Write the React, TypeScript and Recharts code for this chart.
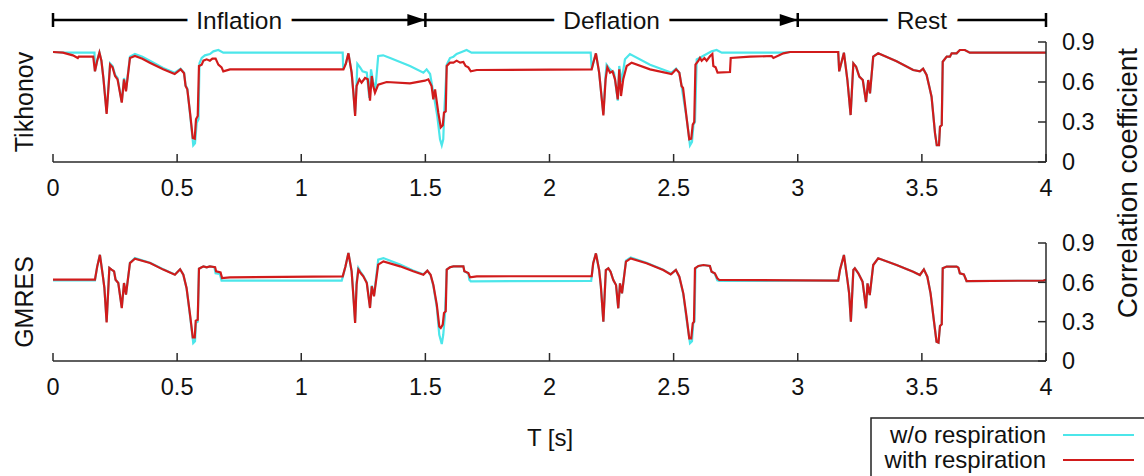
import React from "react";
import { Line, LineChart, XAxis, YAxis } from "recharts";

type Pt = [number, number];

const xTicks = [0, 0.5, 1, 1.5, 2, 2.5, 3, 3.5, 4];
const yTicks = [0, 0.3, 0.6, 0.9];
const seriesNames = ["w/o respiration", "with respiration"];
const panelNames = ["Tikhonov", "GMRES"];
const phases = [
  { label: "Inflation", from: 0, to: 1.5, head: "arrow" },
  { label: "Deflation", from: 1.5, to: 3, head: "arrow" },
  { label: "Rest", from: 3, to: 4, head: "bar" },
];

// Tikhonov, with respiration (red)
const tikhonovWith: Pt[] = [
  [0, 0.825], [0.04, 0.82], [0.08, 0.8], [0.1, 0.78], [0.104, 0.79], [0.162, 0.79],
  [0.169, 0.68], [0.178, 0.76], [0.187, 0.82], [0.195, 0.76], [0.203, 0.63], [0.216, 0.36],
  [0.23, 0.73], [0.24, 0.71], [0.25, 0.645], [0.26, 0.62], [0.277, 0.445], [0.286, 0.62],
  [0.294, 0.53], [0.31, 0.78], [0.33, 0.795], [0.36, 0.775], [0.39, 0.745], [0.444, 0.695],
  [0.49, 0.66], [0.514, 0.695], [0.528, 0.665], [0.534, 0.57], [0.541, 0.545], [0.552, 0.37],
  [0.563, 0.18], [0.571, 0.175], [0.576, 0.32], [0.583, 0.345], [0.588, 0.72], [0.599, 0.73],
  [0.606, 0.76], [0.619, 0.77], [0.632, 0.76], [0.642, 0.775], [0.655, 0.775], [0.666, 0.73],
  [0.679, 0.71], [0.686, 0.68], [0.713, 0.695], [1.17, 0.695],
  [1.18, 0.74], [1.19, 0.815], [1.203, 0.67], [1.21, 0.52], [1.217, 0.345], [1.223, 0.57],
  [1.234, 0.62], [1.243, 0.595], [1.257, 0.63], [1.268, 0.62], [1.277, 0.46], [1.284, 0.645],
  [1.29, 0.57], [1.297, 0.52], [1.31, 0.58], [1.344, 0.6], [1.438, 0.59], [1.498, 0.61],
  [1.512, 0.62], [1.525, 0.57], [1.532, 0.47], [1.539, 0.545], [1.552, 0.37], [1.562, 0.26],
  [1.57, 0.275], [1.575, 0.37], [1.582, 0.38], [1.586, 0.72], [1.599, 0.745], [1.613, 0.745],
  [1.626, 0.76], [1.64, 0.745], [1.653, 0.75], [1.662, 0.72], [1.673, 0.71], [1.683, 0.68],
  [1.707, 0.69], [2.17, 0.695],
  [2.176, 0.74], [2.187, 0.815], [2.2, 0.67], [2.208, 0.52], [2.217, 0.35], [2.226, 0.62],
  [2.233, 0.71], [2.244, 0.67], [2.254, 0.68], [2.264, 0.62], [2.275, 0.47], [2.281, 0.695],
  [2.288, 0.495], [2.297, 0.62], [2.311, 0.72], [2.331, 0.745], [2.405, 0.695], [2.492, 0.66],
  [2.51, 0.695], [2.523, 0.67], [2.532, 0.57], [2.538, 0.555], [2.553, 0.32], [2.563, 0.17],
  [2.571, 0.175], [2.577, 0.28], [2.583, 0.3], [2.588, 0.73], [2.6, 0.76], [2.606, 0.78],
  [2.613, 0.76], [2.624, 0.78], [2.633, 0.76], [2.647, 0.795], [2.656, 0.81], [2.66, 0.72],
  [2.669, 0.71], [2.677, 0.67], [2.727, 0.675], [2.73, 0.78], [2.808, 0.79], [2.895, 0.795],
  [2.902, 0.78], [2.942, 0.815], [2.969, 0.825], [3.163, 0.825],
  [3.167, 0.68], [3.186, 0.82], [3.2, 0.615], [3.213, 0.352], [3.224, 0.74], [3.235, 0.715],
  [3.248, 0.64], [3.262, 0.615], [3.275, 0.45], [3.284, 0.615], [3.291, 0.515], [3.304, 0.79],
  [3.324, 0.815], [3.398, 0.755], [3.465, 0.69], [3.492, 0.68], [3.505, 0.7], [3.519, 0.653],
  [3.53, 0.565], [3.539, 0.49], [3.553, 0.215], [3.56, 0.127], [3.569, 0.127], [3.573, 0.265],
  [3.58, 0.277], [3.584, 0.752], [3.6, 0.79], [3.613, 0.79], [3.62, 0.815], [3.64, 0.815],
  [3.653, 0.84], [3.673, 0.84], [3.693, 0.82], [4, 0.82],
];

// Tikhonov, w/o respiration (cyan) up to where it meets the red curve
const tikhonovWoOwn: Pt[] = [
  [0, 0.825], [0.05, 0.82], [0.167, 0.82], [0.169, 0.68], [0.178, 0.76], [0.187, 0.82],
  [0.195, 0.76], [0.203, 0.63], [0.216, 0.37], [0.23, 0.74], [0.24, 0.72], [0.25, 0.655],
  [0.26, 0.63], [0.277, 0.45], [0.286, 0.63], [0.294, 0.54], [0.31, 0.79], [0.33, 0.81],
  [0.36, 0.79], [0.39, 0.76], [0.444, 0.705], [0.49, 0.67], [0.514, 0.7], [0.528, 0.67],
  [0.534, 0.575], [0.541, 0.55], [0.552, 0.36], [0.565, 0.125], [0.572, 0.14], [0.579, 0.295],
  [0.586, 0.32], [0.59, 0.74], [0.599, 0.78], [0.612, 0.8], [0.632, 0.81], [0.646, 0.83],
  [0.666, 0.84], [0.686, 0.82], [1.167, 0.82],
  [1.169, 0.7], [1.18, 0.74], [1.19, 0.815], [1.203, 0.67], [1.21, 0.52], [1.217, 0.36],
  [1.223, 0.6], [1.226, 0.737], [1.237, 0.71], [1.247, 0.68], [1.264, 0.67], [1.274, 0.48],
  [1.281, 0.695], [1.29, 0.6], [1.298, 0.53], [1.31, 0.795], [1.33, 0.8], [1.358, 0.78],
  [1.438, 0.72], [1.492, 0.67], [1.505, 0.695], [1.519, 0.66], [1.532, 0.52], [1.548, 0.345],
  [1.559, 0.17], [1.566, 0.125], [1.572, 0.17], [1.576, 0.37], [1.586, 0.73], [1.599, 0.78],
  [1.613, 0.79], [1.626, 0.81], [1.646, 0.825], [1.666, 0.84], [1.686, 0.82], [2.166, 0.82],
  [2.17, 0.7], [2.187, 0.815], [2.2, 0.67], [2.208, 0.52], [2.217, 0.36], [2.226, 0.65],
  [2.23, 0.73], [2.244, 0.695], [2.26, 0.67], [2.275, 0.46], [2.281, 0.72], [2.29, 0.6],
  [2.304, 0.77], [2.324, 0.81], [2.405, 0.73], [2.492, 0.67], [2.51, 0.7], [2.523, 0.67],
  [2.532, 0.57], [2.553, 0.32], [2.566, 0.125], [2.574, 0.15], [2.58, 0.28], [2.586, 0.3],
  [2.593, 0.77], [2.613, 0.79], [2.633, 0.81], [2.653, 0.83], [2.673, 0.84], [2.694, 0.82],
  [2.94, 0.82],
];

// GMRES, with respiration (red)
const gmresWith: Pt[] = [
  [0, 0.62], [0.169, 0.62], [0.178, 0.72], [0.189, 0.81], [0.2, 0.66], [0.207, 0.557],
  [0.216, 0.295], [0.227, 0.71], [0.236, 0.697], [0.246, 0.684], [0.252, 0.62], [0.263, 0.595],
  [0.277, 0.404], [0.286, 0.595], [0.294, 0.506], [0.31, 0.747], [0.33, 0.78], [0.391, 0.747],
  [0.444, 0.697], [0.491, 0.658], [0.512, 0.7], [0.525, 0.658], [0.538, 0.557], [0.552, 0.353],
  [0.563, 0.18], [0.571, 0.18], [0.575, 0.308], [0.583, 0.315], [0.588, 0.704], [0.599, 0.715],
  [0.606, 0.722], [0.619, 0.715], [0.632, 0.722], [0.653, 0.715], [0.657, 0.684], [0.675, 0.676],
  [0.681, 0.633], [0.713, 0.638], [1.167, 0.646],
  [1.178, 0.72], [1.19, 0.824], [1.203, 0.684], [1.21, 0.493], [1.217, 0.29], [1.223, 0.582],
  [1.23, 0.697], [1.239, 0.671], [1.25, 0.646], [1.264, 0.595], [1.277, 0.404], [1.284, 0.57],
  [1.293, 0.493], [1.31, 0.735], [1.331, 0.76], [1.398, 0.722], [1.451, 0.684], [1.492, 0.658],
  [1.508, 0.689], [1.521, 0.658], [1.532, 0.582], [1.546, 0.43], [1.556, 0.264], [1.562, 0.252],
  [1.57, 0.277], [1.575, 0.366], [1.582, 0.379], [1.586, 0.697], [1.599, 0.715], [1.613, 0.722],
  [1.653, 0.722], [1.657, 0.684], [1.673, 0.671], [1.68, 0.638], [1.707, 0.646], [2.17, 0.648],
  [2.176, 0.745], [2.187, 0.821], [2.2, 0.694], [2.207, 0.567], [2.217, 0.3], [2.227, 0.694],
  [2.237, 0.707], [2.246, 0.681], [2.257, 0.618], [2.268, 0.58], [2.277, 0.402], [2.284, 0.592],
  [2.292, 0.516], [2.308, 0.758], [2.327, 0.783], [2.391, 0.745], [2.458, 0.694], [2.488, 0.661],
  [2.509, 0.694], [2.523, 0.643], [2.539, 0.516], [2.552, 0.338], [2.563, 0.173], [2.571, 0.173],
  [2.577, 0.287], [2.582, 0.3], [2.586, 0.707], [2.6, 0.725], [2.62, 0.732], [2.646, 0.725],
  [2.653, 0.681], [2.666, 0.669], [2.676, 0.631], [2.684, 0.618], [3.163, 0.613],
  [3.17, 0.694], [3.186, 0.809], [3.2, 0.618], [3.207, 0.516], [3.214, 0.3], [3.224, 0.694],
  [3.23, 0.707], [3.244, 0.669], [3.261, 0.605], [3.275, 0.402], [3.281, 0.592], [3.29, 0.503],
  [3.304, 0.732], [3.324, 0.783], [3.398, 0.732], [3.465, 0.681], [3.492, 0.656], [3.508, 0.699],
  [3.522, 0.643], [3.535, 0.516], [3.548, 0.313], [3.559, 0.147], [3.567, 0.14], [3.573, 0.267],
  [3.58, 0.28], [3.584, 0.707], [3.6, 0.72], [3.64, 0.72], [3.647, 0.712], [3.653, 0.669],
  [3.669, 0.661], [3.68, 0.61], [3.99, 0.613], [4, 0.62],
];

// GMRES, w/o respiration (cyan) up to where it meets the red curve
const gmresWoOwn: Pt[] = [
  [0, 0.615], [0.169, 0.615], [0.178, 0.72], [0.189, 0.81], [0.2, 0.66], [0.207, 0.557],
  [0.216, 0.3], [0.227, 0.71], [0.236, 0.697], [0.246, 0.684], [0.252, 0.62], [0.263, 0.595],
  [0.277, 0.41], [0.286, 0.595], [0.294, 0.506], [0.31, 0.75], [0.33, 0.785], [0.391, 0.75],
  [0.444, 0.7], [0.491, 0.66], [0.512, 0.7], [0.525, 0.658], [0.538, 0.555], [0.552, 0.345],
  [0.565, 0.137], [0.572, 0.15], [0.576, 0.29], [0.583, 0.3], [0.588, 0.704], [0.599, 0.715],
  [0.606, 0.722], [0.619, 0.715], [0.632, 0.722], [0.65, 0.715], [0.655, 0.67], [0.672, 0.665],
  [0.679, 0.613], [1.163, 0.613],
  [1.17, 0.66], [1.178, 0.72], [1.19, 0.824], [1.203, 0.684], [1.21, 0.5], [1.217, 0.3],
  [1.223, 0.6], [1.23, 0.71], [1.239, 0.68], [1.25, 0.65], [1.264, 0.6], [1.277, 0.41],
  [1.284, 0.575], [1.293, 0.5], [1.31, 0.773], [1.331, 0.785], [1.398, 0.735], [1.451, 0.69],
  [1.492, 0.662], [1.508, 0.689], [1.521, 0.655], [1.532, 0.575], [1.546, 0.41], [1.556, 0.2],
  [1.566, 0.13], [1.572, 0.2], [1.579, 0.353], [1.586, 0.697], [1.599, 0.715], [1.613, 0.722],
  [1.653, 0.722], [1.657, 0.684], [1.673, 0.668], [1.677, 0.62], [1.683, 0.608], [2.168, 0.61],
  [2.176, 0.745], [2.187, 0.821], [2.2, 0.694], [2.207, 0.567], [2.217, 0.3], [2.227, 0.694],
  [2.237, 0.707], [2.246, 0.681], [2.257, 0.618], [2.268, 0.58], [2.277, 0.402], [2.284, 0.592],
  [2.292, 0.516], [2.308, 0.765], [2.327, 0.79], [2.391, 0.75], [2.458, 0.697], [2.488, 0.663],
  [2.509, 0.694], [2.523, 0.64], [2.539, 0.51], [2.552, 0.32], [2.566, 0.135], [2.574, 0.15],
  [2.579, 0.287], [2.584, 0.3], [2.588, 0.707], [2.6, 0.725], [2.62, 0.732], [2.646, 0.725],
  [2.653, 0.681], [2.666, 0.665], [2.676, 0.615], [2.684, 0.61], [3.0, 0.613],
];

const tikhonovWo: Pt[] = [...tikhonovWoOwn, ...tikhonovWith.filter(([t]) => t >= 2.969)];
const gmresWo: Pt[] = [...gmresWoOwn, ...gmresWith.filter(([t]) => t >= 3.163)];

const toRows = (pts: Pt[]) => pts.map(([t, v]) => ({ t, v }));

const CYAN = "#4ce6ea";
const RED = "#d11b1b";
const FRAME = "#2a2a2a";
const FONT = "'Liberation Sans', Arial, Helvetica, sans-serif";

const PLOT_LEFT = 53;
const PLOT_RIGHT = 1046;
const CHART_H = 220;
const xPx = (t: number) => PLOT_LEFT + (t / 4) * (PLOT_RIGHT - PLOT_LEFT);

type PanelProps = {
  top: number;
  plotTop: number;
  plotBottom: number;
  wo: Pt[];
  withResp: Pt[];
};

function Panel({ top, plotTop, plotBottom, wo, withResp }: PanelProps) {
  const axisStyle = { stroke: FRAME, strokeWidth: 1.5 };
  return (
    <div style={{ position: "absolute", left: 0, top }}>
      <LineChart
        width={1144}
        height={CHART_H}
        margin={{ top: plotTop, right: 1144 - PLOT_RIGHT - 60, left: PLOT_LEFT, bottom: CHART_H - plotBottom - 30 }}
      >
        <XAxis
          xAxisId="b"
          dataKey="t"
          type="number"
          domain={[0, 4]}
          ticks={xTicks}
          interval={0}
          allowDataOverflow
          height={30}
          tickSize={-8}
          tickMargin={25}
          axisLine={axisStyle}
          tickLine={axisStyle}
          tick={{ fill: "#111", fontSize: 23.5 }}
        />
        <XAxis
          xAxisId="top"
          orientation="top"
          dataKey="t"
          type="number"
          domain={[0, 4]}
          ticks={xTicks}
          interval={0}
          allowDataOverflow
          height={0}
          tickSize={-8}
          tick={false}
          axisLine={axisStyle}
          tickLine={axisStyle}
        />
        <YAxis
          yAxisId="r"
          orientation="right"
          type="number"
          domain={[0, 0.9]}
          ticks={yTicks}
          interval={0}
          allowDataOverflow
          width={60}
          tickSize={-8}
          tickMargin={24}
          axisLine={axisStyle}
          tickLine={axisStyle}
          tick={{ fill: "#111", fontSize: 23.5 }}
        />
        <YAxis
          yAxisId="l"
          orientation="left"
          type="number"
          domain={[0, 0.9]}
          allowDataOverflow
          width={0}
          tick={false}
          tickLine={false}
          axisLine={axisStyle}
        />
        <Line
          xAxisId="b"
          yAxisId="r"
          data={toRows(wo)}
          dataKey="v"
          name={seriesNames[0]}
          type="linear"
          stroke={CYAN}
          strokeWidth={2.2}
          dot={false}
          isAnimationActive={false}
        />
        <Line
          xAxisId="b"
          yAxisId="r"
          data={toRows(withResp)}
          dataKey="v"
          name={seriesNames[1]}
          type="linear"
          stroke={RED}
          strokeWidth={2.2}
          dot={false}
          isAnimationActive={false}
        />
      </LineChart>
    </div>
  );
}

function Overlay() {
  const lineY = 20;
  return (
    <svg
      width={1144}
      height={476}
      style={{ position: "absolute", left: 0, top: 0, pointerEvents: "none" }}
      fontFamily={FONT}
    >
      {/* phase header */}
      {phases.map((p) => {
        const x0 = xPx(p.from);
        const x1 = xPx(p.to);
        return (
          <g key={p.label}>
            <line x1={x0} x2={x1} y1={lineY} y2={lineY} stroke="#000" strokeWidth={2.5} />
            <line x1={x0} x2={x0} y1={lineY - 7} y2={lineY + 7} stroke="#000" strokeWidth={2.5} />
            {p.head === "arrow" ? (
              <polygon points={`${x1},${lineY} ${x1 - 18},${lineY - 6} ${x1 - 18},${lineY + 6}`} fill="#000" />
            ) : (
              <line x1={x1} x2={x1} y1={lineY - 7} y2={lineY + 7} stroke="#000" strokeWidth={2.5} />
            )}
            <text
              x={(x0 + x1) / 2}
              y={29}
              textAnchor="middle"
              fontSize={24.5}
              fill="#111"
              stroke="#fff"
              strokeWidth={22}
              strokeLinejoin="round"
              style={{ paintOrder: "stroke" }}
            >
              {p.label}
            </text>
          </g>
        );
      })}

      {/* panel names */}
      <text transform="translate(33,102) rotate(-90)" textAnchor="middle" fontSize={25} fill="#111">
        {panelNames[0]}
      </text>
      <text transform="translate(33,302) rotate(-90)" textAnchor="middle" fontSize={25} fill="#111">
        {panelNames[1]}
      </text>

      {/* axis titles */}
      <text transform="translate(1137,183) rotate(-90)" textAnchor="middle" fontSize={28} fill="#111">
        Correlation coefficient
      </text>
      <text x={550} y={446} textAnchor="middle" fontSize={24} fill="#111">
        T [s]
      </text>

      {/* legend */}
      <rect x={871} y={418} width={300} height={80} fill="none" stroke="#222" strokeWidth={1.5} />
      <text x={1046} y={443} textAnchor="end" fontSize={24} fill="#111">
        {seriesNames[0]}
      </text>
      <line x1={1063} x2={1134} y1={435} y2={435} stroke={CYAN} strokeWidth={2.2} />
      <text x={1046} y={468} textAnchor="end" fontSize={24} fill="#111">
        {seriesNames[1]}
      </text>
      <line x1={1063} x2={1134} y1={460} y2={460} stroke={RED} strokeWidth={2.2} />
    </svg>
  );
}

export default function App() {
  return (
    <div
      style={{
        position: "absolute",
        left: 0,
        top: 0,
        width: 1144,
        height: 476,
        background: "#fff",
        overflow: "hidden",
        fontFamily: FONT,
      }}
    >
      <Panel top={0} plotTop={42} plotBottom={162} wo={tikhonovWo} withResp={tikhonovWith} />
      <Panel top={200} plotTop={43} plotBottom={161} wo={gmresWo} withResp={gmresWith} />
      <Overlay />
    </div>
  );
}
